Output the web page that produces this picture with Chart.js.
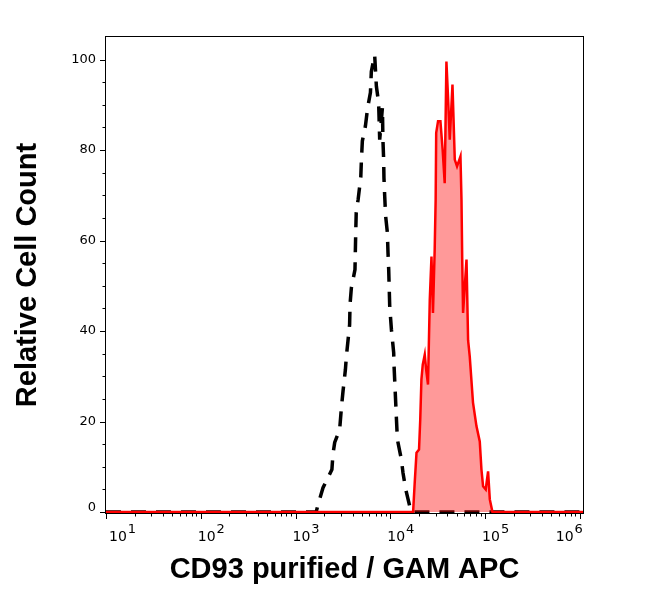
<!DOCTYPE html>
<html>
<head>
<meta charset="utf-8">
<script src="https://cdn.jsdelivr.net/npm/chart.js@4.4.1/dist/chart.umd.min.js"></script>
<style>
  html, body { margin: 0; padding: 0; background: #fff; }
  #wrap { width: 650px; height: 598px; }
</style>
</head>
<body>
<div id="wrap"><canvas id="histChart" width="650" height="598"></canvas></div>
<script>
// Isotype control histogram (dashed black)
const isoX = [10, 1650, 1720, 1950, 2420, 2480, 2590, 2920, 3050, 3170, 3360, 3440, 3570, 3720, 3760,
  3880, 4240, 4280, 4320, 4370, 4570, 4880, 4950, 5070, 5460, 5770, 6170, 6310, 6840, 7130, 7530,
  7730, 8260, 8360, 8510, 8570, 8730, 8930, 9310, 9460, 9620, 9860, 10280, 10860, 10940, 11590,
  11890, 13090, 13610, 14560, 16030, 16710, 1080000];
const isoY = [0, 0, 1.5, 5.4, 9.4, 12.7, 15.4, 18.2, 23.1, 26.7, 31.5, 34.4, 37.7, 41.4, 45.9,
  49.5, 53.6, 58, 62, 66.2, 69, 74, 77.5, 82, 85.3, 89.4, 92.7, 97.4, 101, 94.1, 90.5,
  82.3, 89.4, 82.3, 77.9, 73.9, 69.8, 65.4, 61.8, 57.3, 53.6, 45.5, 40.3, 35.2, 32.6, 20.9,
  16, 11.6, 8.7, 5, 1.3, 0, 0];

// CD93 stained histogram (filled red)
const cd93X = [10, 17000, 17400, 18100, 18900, 20100, 20700, 21300, 22000, 23100, 23900, 25000,
  26100, 27200, 28200, 29400, 30100, 30500, 31900, 33800, 35700, 37500, 39100, 40800, 42400,
  45300, 47900, 50600, 55000, 56400, 57400, 58600, 63700, 66200, 68900, 74600, 81100, 87900,
  91600, 95300, 101600, 107600, 112200, 119700, 1080000];
const cd93Y = [0, 0, 0, 6.5, 13.1, 13.8, 20.4, 29.3, 32.6, 34.8, 31.5, 28.2,
  47, 56.5, 44, 58, 69, 83.8, 86.4, 86.4, 80, 72.7, 99.6, 91, 82.3,
  94.5, 77.9, 76.4, 78.6, 69, 55.8, 44, 55.8, 38, 34.4, 24.2, 19, 15.6,
  9.4, 5.7, 5, 9, 2.8, 0, 0];

const yTickValues = [0, 20, 40, 60, 80, 100];
const xTickExponents = [1, 2, 3, 4, 5, 6];

// frame, ticks and tick labels drawn by hand (minor ticks are shorter)
const axisDecor = {
  id: 'axisDecor',
  afterDatasetsDraw(chart) {
    const { ctx, chartArea: a, scales: { x, y } } = chart;
    ctx.save();
    ctx.strokeStyle = '#000';
    ctx.fillStyle = '#000';
    ctx.lineWidth = 1;
    ctx.strokeRect(a.left - 0.5, a.top - 0.5, a.right - a.left + 1, a.bottom - a.top + 1);

    ctx.beginPath();
    for (let e = 0; e <= 6; e++) {
      for (let k = 1; k <= 9; k++) {
        const v = k * Math.pow(10, e);
        if (v < x.min || v > x.max) continue;
        const px = Math.round(x.getPixelForValue(v)) + 0.5;
        const len = k === 1 ? 6 : 3.5;
        ctx.moveTo(px, a.bottom);
        ctx.lineTo(px, a.bottom + len);
      }
    }
    for (let v = 0; v <= 100; v += 5) {
      const py = Math.round(y.getPixelForValue(v)) + 0.5;
      const len = v % 20 === 0 ? 6 : 3.5;
      ctx.moveTo(a.left, py);
      ctx.lineTo(a.left - len, py);
    }
    ctx.stroke();

    ctx.textAlign = 'right';
    ctx.textBaseline = 'middle';
    ctx.font = '13px "DejaVu Sans"';
    yTickValues.forEach(v => {
      const py = Math.min(y.getPixelForValue(v), a.bottom - 5);
      ctx.fillText(String(v), a.left - 10, py);
    });

    ctx.textAlign = 'left';
    ctx.textBaseline = 'alphabetic';
    xTickExponents.forEach((e, i) => {
      const px = x.getPixelForValue(Math.pow(10, e));
      ctx.font = '14px "DejaVu Sans"';
      const wBase = ctx.measureText('10').width;
      ctx.font = '13px "DejaVu Sans"';
      const wExp = ctx.measureText(String(e)).width;
      let start = Math.max(px - 3, a.left + 3);
      if (i === xTickExponents.length - 1) start = px - wBase - wExp + 2;
      ctx.font = '14px "DejaVu Sans"';
      ctx.fillText('10', start, 541);
      ctx.font = '13px "DejaVu Sans"';
      ctx.fillText(String(e), start + wBase + 1, 533);
    });
    ctx.restore();
  }
};

new Chart(document.getElementById('histChart'), {
  type: 'line',
  data: {
    datasets: [
      {
        label: 'CD93',
        data: cd93X.map((v, i) => ({ x: v, y: cd93Y[i] })),
        borderColor: '#ff0000',
        backgroundColor: 'rgba(255, 0, 0, 0.4)',
        borderWidth: 2.5,
        fill: 'origin',
        pointRadius: 0,
        tension: 0
      },
      {
        label: 'Isotype',
        data: isoX.map((v, i) => ({ x: v, y: isoY[i] })),
        borderColor: '#000000',
        borderWidth: 3.5,
        borderDash: [15, 10],
        fill: false,
        pointRadius: 0,
        tension: 0
      }
    ]
  },
  options: {
    responsive: false,
    animation: false,
    layout: { padding: { top: 37, right: 67, left: 0, bottom: 0 } },
    plugins: {
      legend: { display: false },
      tooltip: { enabled: false }
    },
    scales: {
      x: {
        type: 'logarithmic',
        min: 10,
        max: 1080000,
        ticks: { display: false },
        grid: { display: false },
        border: { display: false },
        title: {
          display: true,
          text: 'CD93 purified / GAM APC',
          color: '#000',
          font: { family: '"Liberation Sans", Arial, sans-serif', size: 29, weight: 'bold' },
          padding: { top: 0, bottom: 11 }
        },
        afterFit(scale) { scale.height = 85; }
      },
      y: {
        type: 'linear',
        min: -0.2,
        max: 105,
        ticks: { display: false },
        grid: { display: false },
        border: { display: false },
        title: {
          display: true,
          text: 'Relative Cell Count',
          color: '#000',
          font: { family: '"Liberation Sans", Arial, sans-serif', size: 29, weight: 'bold' },
          padding: { top: 11, bottom: 0 }
        },
        afterFit(scale) { scale.width = 106; }
      }
    }
  },
  plugins: [axisDecor]
});
</script>
</body>
</html>
